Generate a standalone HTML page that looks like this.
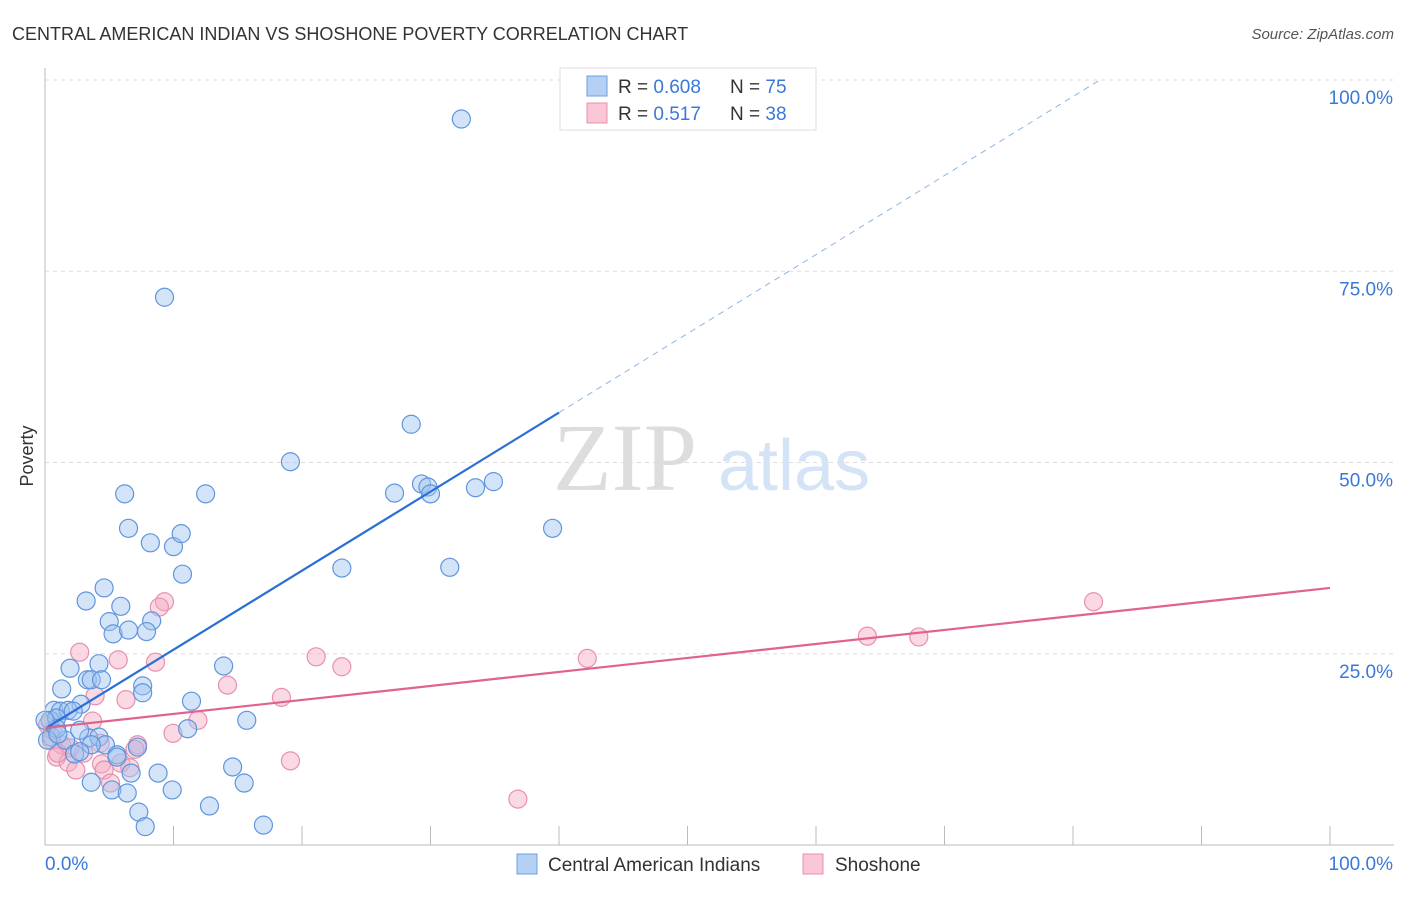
<!DOCTYPE html>
<html><head><meta charset="utf-8"><style>
body{margin:0;background:#fff;font-family:"Liberation Sans",sans-serif;}
svg text{font-family:"Liberation Sans",sans-serif;}
</style></head><body>
<svg id="chart" width="1406" height="892" xmlns="http://www.w3.org/2000/svg">
<text x="12" y="40" font-size="18" fill="#333">CENTRAL AMERICAN INDIAN VS SHOSHONE POVERTY CORRELATION CHART</text>
<text x="1394" y="39" font-size="15" fill="#555" text-anchor="end" font-style="italic">Source: ZipAtlas.com</text>
<g id="grid"></g>
<g>
<text x="553" y="490" font-size="96" fill="#ddd" font-family="Liberation Serif" style="font-family:'Liberation Serif',serif">ZIP</text>
<text x="718" y="490" font-size="72" fill="#d4e3f5">atlas</text>
</g>
<g id="pts"></g>
<g id="lines"></g>
<g id="axes"></g>
<g>
<rect x="560" y="68" width="256" height="62" fill="#fff" stroke="#ddd"/>
<rect x="587" y="76" width="20" height="20" fill="#b5d0f3" stroke="#6a9fe0"/>
<text x="618" y="93" font-size="19" fill="#333">R = <tspan fill="#3a78d8">0.608</tspan></text>
<text x="730" y="93" font-size="19" fill="#333">N = <tspan fill="#3a78d8">75</tspan></text>
<rect x="587" y="103" width="20" height="20" fill="#f9c6d5" stroke="#e890ad"/>
<text x="618" y="120" font-size="19" fill="#333">R = <tspan fill="#3a78d8"> 0.517</tspan></text>
<text x="730" y="120" font-size="19" fill="#333">N = <tspan fill="#3a78d8">38</tspan></text>
</g>
<g>
<rect x="517" y="854" width="20" height="20" fill="#b5d0f3" stroke="#6a9fe0"/>
<text x="548" y="871" font-size="19" fill="#333">Central American Indians</text>
<rect x="803" y="854" width="20" height="20" fill="#f9c6d5" stroke="#e890ad"/>
<text x="835" y="871" font-size="19" fill="#333">Shoshone</text>
</g>
<text transform="translate(33,456) rotate(-90)" font-size="18" fill="#333" text-anchor="middle">Poverty</text>
</svg>
<script>
const blueX=[32.4,9.3,28.5,19.1,6.2,12.5,27.2,29.3,29.8,30.0,33.5,34.9,39.5,6.5,8.2,10.0,10.6,10.7,23.1,31.5,4.6,3.2,5.9,5.0,8.3,5.3,6.5,7.9,1.95,4.2,13.9,1.3,3.3,3.6,4.4,7.6,7.6,11.4,2.8,0.7,1.2,1.8,2.2,0.4,0.9,15.7,11.1,0.5,1.6,3.4,4.2,2.7,4.7,3.6,7.2,2.3,2.7,5.6,5.6,8.8,14.6,6.7,3.6,15.5,5.2,6.4,9.9,7.3,12.8,7.8,17.0,0.9,0.0,0.2,1.0];
const blueY=[94.9,71.6,55.0,50.1,45.9,45.9,46.0,47.2,46.8,45.9,46.7,47.5,41.4,41.4,39.5,39.0,40.7,35.4,36.2,36.3,33.6,31.9,31.2,29.2,29.3,27.6,28.1,27.9,23.1,23.7,23.4,20.4,21.6,21.6,21.6,20.8,19.9,18.8,18.4,17.6,17.5,17.6,17.5,16.3,16.6,16.3,15.2,14.1,13.7,14.0,14.1,15.0,13.1,13.1,12.8,11.9,12.2,11.8,11.5,9.4,10.2,9.4,8.2,8.1,7.2,6.8,7.2,4.3,5.1,2.4,2.6,15.2,16.3,13.7,14.5];
const pinkX=[81.6,64.0,68.0,42.2,21.1,23.1,9.3,8.9,2.7,5.7,8.6,14.2,3.9,6.3,18.4,3.7,11.9,9.96,0.5,1.3,1.95,4.3,7.2,0.9,1.8,4.4,4.6,5.9,6.6,2.4,19.1,5.1,36.8,0.2,0.6,1.0,3.0,7.0];
const pinkY=[31.8,27.3,27.2,24.4,24.6,23.3,31.8,31.1,25.2,24.2,23.9,20.9,19.5,19.0,19.3,16.2,16.3,14.6,13.7,13.1,12.7,13.3,13.1,11.5,10.8,10.6,9.8,10.7,10.1,9.8,11.0,8.1,6.0,15.7,15.0,12.0,12.0,12.5];
const blueLine=[15.2,1.033];
const pinkLine=[15.3,0.183];
const xTicks=[0,100];
const yTicks=[25,50,75,100];
const NS='http://www.w3.org/2000/svg';
const X=v=>45+v*12.85, Y=v=>845-v*7.65;
function mk(t,a,p){const e=document.createElementNS(NS,t);for(const k in a)e.setAttribute(k,a[k]);p.appendChild(e);return e;}
const grid=document.getElementById('grid'),axes=document.getElementById('axes'),pts=document.getElementById('pts'),lines=document.getElementById('lines');
yTicks.forEach(v=>{const l=mk('line',{x1:45,x2:1394,y1:Y(v),y2:Y(v),stroke:'#ddd','stroke-dasharray':'4,4'},grid);


const t=mk('text',{x:1393,y:Y(v)+24,'font-size':19,fill:'#3a78d8','text-anchor':'end'},axes);t.textContent=v.toFixed(1)+'%';

});
mk('line',{x1:45,x2:45,y1:68,y2:845,stroke:'#bbb'},axes);
mk('line',{x1:45,x2:1394,y1:845,y2:845,stroke:'#bbb'},axes);
for(let i=1;i<=10;i++){mk('line',{x1:X(i*10),x2:X(i*10),y1:826,y2:845,stroke:'#bbb'},axes);}
xTicks.forEach(v=>{const t=mk('text',{x:v==0?45:1393,y:870,'font-size':19,fill:'#3a78d8','text-anchor':v==0?'start':'end'},axes);t.textContent=v.toFixed(1)+'%';

});
pinkX.forEach((x,i)=>{const c=mk('circle',{cx:X(x),cy:Y(pinkY[i]),r:9,fill:'rgba(245,170,195,0.45)',stroke:'#e890ad','stroke-width':1.2},pts);

});
blueX.forEach((x,i)=>{const c=mk('circle',{cx:X(x),cy:Y(blueY[i]),r:9,fill:'rgba(160,195,240,0.45)',stroke:'#5f95dd','stroke-width':1.2},pts);

});
const bx2=40,bx3=82;
let l=mk('line',{x1:X(0),y1:Y(blueLine[0]),x2:X(bx2),y2:Y(blueLine[0]+blueLine[1]*bx2),stroke:'#2a6fd6','stroke-width':2.2},lines);


l=mk('line',{x1:X(bx2),y1:Y(blueLine[0]+blueLine[1]*bx2),x2:X(bx3),y2:Y(blueLine[0]+blueLine[1]*bx3),stroke:'#8fb4e6','stroke-width':1,'stroke-dasharray':'6,5'},lines);


l=mk('line',{x1:X(0),y1:Y(pinkLine[0]),x2:X(100),y2:Y(pinkLine[0]+pinkLine[1]*100),stroke:'#e0628e','stroke-width':2.2},lines);


</script>
</body></html>
